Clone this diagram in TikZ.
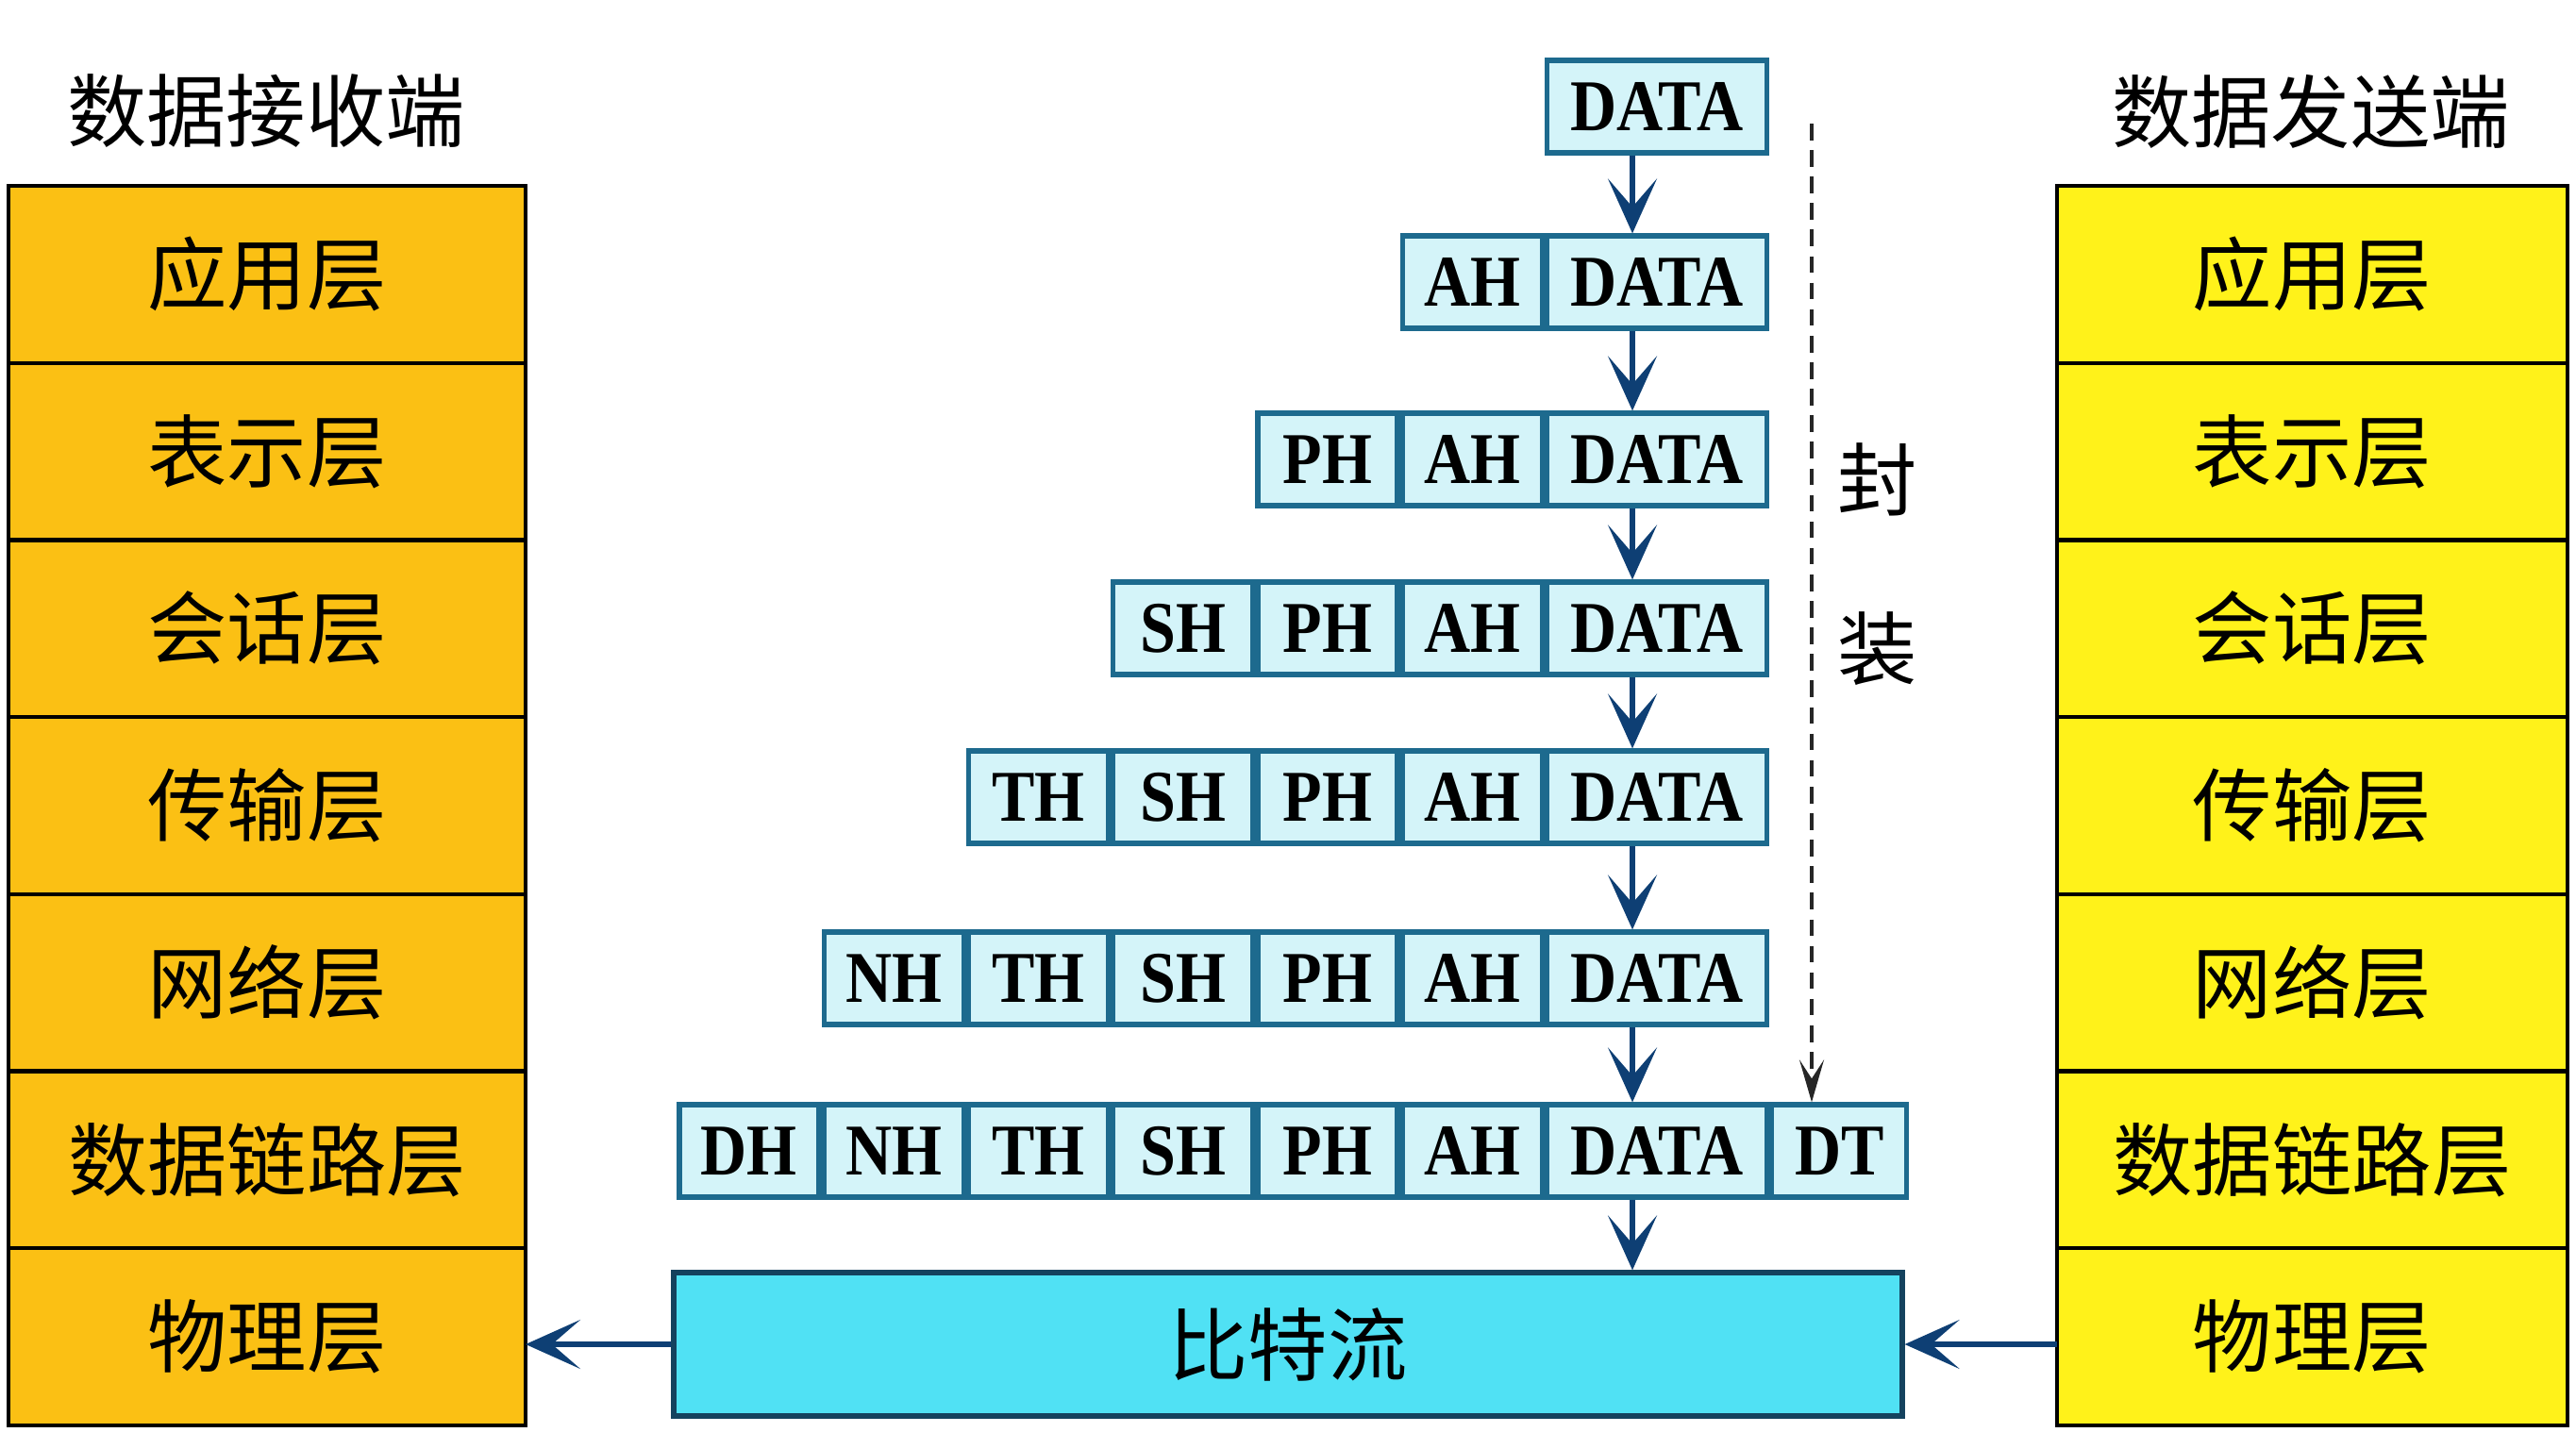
\documentclass[tikz,border=0pt]{standalone}
\usepackage{fontspec}
\usetikzlibrary{positioning,arrows.meta}
\newfontfamily\cjk{Noto Sans CJK SC}
\newfontfamily\hdrfont[FakeStretch=0.88]{Liberation Serif}
\definecolor{recvfill}{HTML}{FBC014}
\definecolor{sendfill}{HTML}{FFF21A}
\definecolor{cellfill}{HTML}{D4F4F9}
\definecolor{cellline}{HTML}{1D6A8E}
\definecolor{bitsfill}{HTML}{50E1F4}
\definecolor{bitsline}{HTML}{14425E}
\definecolor{arrowblue}{HTML}{0E3F74}

\begin{document}
\begin{tikzpicture}[
  x=1cm,
  y=1cm,
  layer/.style={draw=black, line width=1.2pt, minimum height=1.877cm,
    outer sep=0pt, inner sep=0pt, font=\cjk\fontsize{24}{28}\selectfont},
  cell/.style={draw=cellline, fill=cellfill, line width=1.5pt, inner sep=0pt,
    minimum height=0.98cm, font=\hdrfont\bfseries\fontsize{22}{26}\selectfont},
  hdrcell/.style={cell, minimum width=1.48cm},
  datacell/.style={cell, minimum width=2.33cm},
  trailcell/.style={cell, minimum width=1.43cm},
  cjklabel/.style={font=\cjk\fontsize{24}{28}\selectfont},
  downarrow/.style={draw=arrowblue, line width=1.5pt,
    -{Stealth[length=0.58cm, width=0.52cm, inset=0.3cm]}},
  wraparrow/.style={draw=black!85, line width=1.2pt, dash pattern=on 5pt off 3pt,
    -{Stealth[length=0.45cm, width=0.26cm, inset=0.2cm]}}
]
  \useasboundingbox (0,0) rectangle (27.30,-15.35);

  % titles
  \node[cjklabel] (recvtitle) at (2.82,-1.18) {数据接收端};
  \node[cjklabel] (sendtitle) at (24.49,-1.18) {数据发送端};

  % both layer stacks
  \foreach \name [count=\i] in {应用层,表示层,会话层,传输层,网络层,数据链路层,物理层} {
    \node[layer, fill=recvfill, minimum width=5.48cm] (recv\i) at (2.83,{-1.97-1.877*(\i-0.5)}) {\name};
    \node[layer, fill=sendfill, minimum width=5.41cm] (send\i) at (24.505,{-1.97-1.877*(\i-0.5)}) {\name};
  }

  % data units, one header added per row
  \foreach \r/\y in {1/-1.13, 2/-2.99, 3/-4.87, 4/-6.66, 5/-8.45, 6/-10.37, 7/-12.20}
    \node[datacell] (d\r) at (17.56,\y) {DATA};
  \foreach \h/\p/\t/\first in {a/d/AH/2, p/a/PH/3, s/p/SH/4, t/s/TH/5, n/t/NH/6, l/n/DH/7}
    \foreach \r in {\first,...,7}
      \node[hdrcell, left=0pt of \p\r] (\h\r) {\t};
  \node[trailcell, right=0pt of d7] (dt) {DT};

  % bit stream
  \node[draw=bitsline, fill=bitsfill, line width=1.5pt, minimum width=13.02cm,
    minimum height=1.52cm, inner sep=0pt, cjklabel] (bits) at (13.65,-14.25) {比特流};

  % encapsulation arrows
  \coordinate (ax) at (17.30,0);
  \foreach \r [evaluate=\r as \n using int(\r+1)] in {1,...,6}
    \draw[downarrow] (d\r.south -| ax) -- (d\n.north -| ax);
  \draw[downarrow] (d7.south -| ax) -- (bits.north -| ax);

  % dashed side arrow
  \coordinate (dtop) at (19.20,-1.31);
  \draw[wraparrow] (dtop) -- (dtop |- dt.north);
  \node[cjklabel] (feng) at (19.90,-5.08) {封};
  \node[cjklabel] (zhuang) at (19.90,-6.88) {装};

  % transfer arrows
  \draw[downarrow] (bits.west) -- (bits.west -| recv7.east);
  \draw[downarrow] (bits.east -| send7.west) -- (bits.east);
\end{tikzpicture}
\end{document}
